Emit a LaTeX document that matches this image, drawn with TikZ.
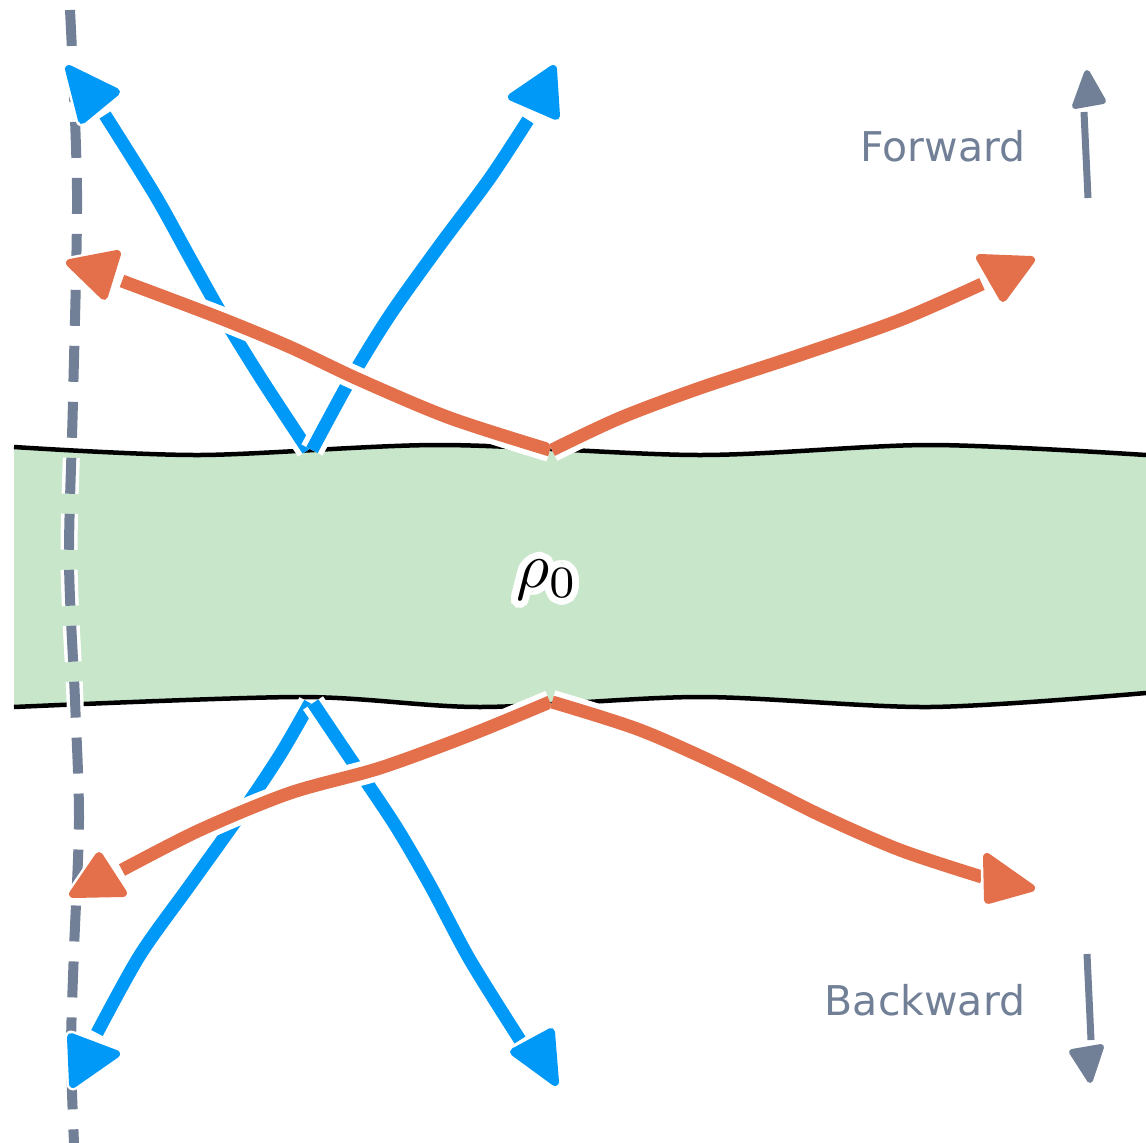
\documentclass[tikz,border=0pt]{standalone}
\usepackage{fontspec}
\newfontfamily\labelfont{DejaVu Sans}
\definecolor{bandgreen}{HTML}{C8E6C9}
\definecolor{arrblue}{HTML}{0099F7}
\definecolor{arrorange}{HTML}{E3704A}
\definecolor{slate}{HTML}{718096}
\tikzset{
  halo/.style={draw=white, line width=24pt, line cap=butt, line join=round},
  shaft/.style={line width=13pt, line cap=butt, line join=round},
  headhalo/.style={draw=white, line width=13pt, line join=round},
  headfill/.style={line width=8pt, line join=round},
  edge/.style={draw=black, line width=4.5pt, line join=round},
  dashhalo/.style={draw=white, line width=17pt, dash pattern=on 36pt off 20pt},
  dashline/.style={draw=slate, line width=10pt, dash pattern=on 36pt off 20pt},
  lbl/.style={text=slate, font=\labelfont\fontsize{41}{48}\selectfont, inner sep=0pt},
}
\newcommand{\mkarrow}[3]{%
  \draw[halo] plot[smooth] coordinates {#2};
  \draw[shaft, draw=#1] plot[smooth] coordinates {#2};
  \draw[headhalo] #3;
  \filldraw[headfill, draw=#1, fill=#1] #3;
}
\begin{document}
\begin{tikzpicture}[x=1pt,y=-1pt]
\useasboundingbox (0,0) rectangle (1146,1143);
% band
\fill[bandgreen] plot[smooth] coordinates {(14,447) (200,455) (440,445) (700,455) (930,445) (1146,455)}
  -- plot[smooth] coordinates {(1146,693) (930,707) (700,697) (480,707) (300,697) (14,707)} -- cycle;
\draw[edge] plot[smooth] coordinates {(14,447) (200,455) (440,445) (700,455) (930,445) (1146,455)};
\draw[edge] plot[smooth] coordinates {(14,707) (300,697) (480,707) (700,697) (930,707) (1146,693)};
% dashed vertical line
\draw[dashhalo] plot[smooth] coordinates {(70,10) (77,190) (73,400) (69,560) (75,700) (79,820) (74,950) (71,1050) (74,1143)};
\draw[dashline] plot[smooth] coordinates {(70,10) (77,190) (73,400) (69,560) (75,700) (79,820) (74,950) (71,1050) (74,1143)};
% blue arrows
\mkarrow{arrblue}{(308,450) (262,380) (225,320) (190,258) (155,195) (105,115)}{(69,69)--(116,92)--(82,120)--cycle}
\mkarrow{arrblue}{(312,450) (350,380) (390,315) (440,245) (490,178) (528,120)}{(553,69)--(556,116)--(512,97)--cycle}
\mkarrow{arrblue}{(310,703) (280,755) (240,815) (190,885) (140,955) (97,1033)}{(71,1037)--(116,1054)--(73,1084)--cycle}
\mkarrow{arrblue}{(313,703) (350,758) (395,825) (430,885) (470,960) (520,1040)}{(514,1052)--(551,1032)--(555,1082)--cycle}
% orange arrows
\mkarrow{arrorange}{(550,450) (450,418) (360,380) (290,347) (220,318) (122,281)}{(70,263)--(117,254)--(104,296)--cycle}
\mkarrow{arrorange}{(552,450) (620,418) (700,388) (800,355) (900,320) (982,284)}{(980,258)--(1031,260)--(1003,298)--cycle}
\mkarrow{arrorange}{(550,702) (470,735) (380,768) (290,793) (200,830) (122,870)}{(99,856)--(123,893)--(73,894)--cycle}
\mkarrow{arrorange}{(552,702) (640,730) (730,770) (820,815) (900,850) (982,877)}{(987,857)--(1031,888)--(988,900)--cycle}
% direction labels
\node[lbl] (fwd) at (943,146) {Forward};
\node[lbl] (bwd) at (925,1000) {Backward};
\coordinate (fa) at (1088,198);
\coordinate (fb) at (1084,112);
\draw[draw=slate, line width=7pt] (fa) -- (fb);
\filldraw[draw=slate, fill=slate, line width=6pt, line join=round] (1075,106) -- (1087,73) -- (1103,101) -- cycle;
\coordinate (ba) at (1087,954);
\coordinate (bb) at (1091,1040);
\draw[draw=slate, line width=7pt] (ba) -- (bb);
\filldraw[draw=slate, fill=slate, line width=6pt, line join=round] (1072,1052) -- (1101,1047) -- (1090,1080) -- cycle;
% rho label with white halo
\foreach \a in {0,22.5,...,337.5} {
  \node[text=white, scale=6.4, inner sep=0pt] (rhohalo\a) at ([shift={(\a:7)}]547,580) {$\rho_0$};
}
\node[text=black, scale=6.4, inner sep=0pt] (rho) at (547,580) {$\rho_0$};
\end{tikzpicture}
\end{document}
